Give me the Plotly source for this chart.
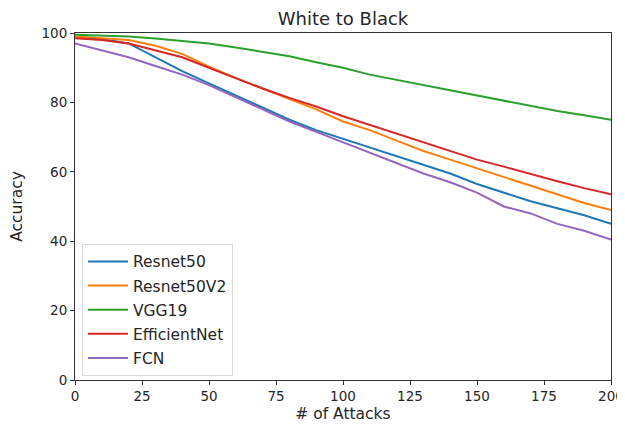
import plotly.graph_objects as go

attacks = list(range(0, 201, 10))
resnet50 = [99, 98.3, 97, 93, 89, 85.5, 82, 78.5, 75, 72, 69.5, 67, 64.5, 62, 59.5, 56.5, 54, 51.5, 49.5, 47.5, 45]
resnet50v2 = [99, 98.6, 98, 96.3, 94, 90.3, 87, 84, 81, 78, 74.5, 72, 69, 66, 63.5, 61, 58.5, 56, 53.5, 51, 49]
vgg19 = [99.5, 99.3, 99, 98.4, 97.8, 97, 95.8, 94.6, 93.3, 91.6, 90, 88, 86.5, 85, 83.5, 82, 80.5, 79, 77.5, 76.3, 75]
efficientnet = [98.5, 98, 97, 95, 93, 90, 87, 84, 81.3, 78.8, 76, 73.5, 71, 68.5, 66, 63.5, 61.5, 59.3, 57.3, 55.3, 53.5]
fcn = [97, 95, 93, 90.5, 88, 85, 81.5, 78, 74.5, 71.5, 68.5, 65.5, 62.5, 59.5, 57, 54, 50, 48, 45, 43, 40.5]

names = ["Resnet50", "Resnet50V2", "VGG19", "EfficientNet", "FCN"]
series = [resnet50, resnet50v2, vgg19, efficientnet, fcn]
colors = ["#1f77b4", "#ff7f0e", "#2ca02c", "#d62728", "#9467bd"]

fig = go.Figure()
for n, s, c in zip(names, series, colors):
    fig.add_trace(go.Scatter(x=attacks, y=s, mode="lines", name=n, legendgroup=n,
                             line=dict(color=c, width=2)))

fig.update_layout(
    width=625, height=423,
    margin=dict(l=67, r=22, t=25, b=51, autoexpand=False),
    plot_bgcolor="white", paper_bgcolor="white",
    font=dict(family="DejaVu Sans", size=13, color="#262626"),
    title=dict(text="White to Black", xref="paper", x=0.5, xanchor="center",
               yref="container", y=0.974, yanchor="middle", automargin=False,
               font=dict(size=18, family="DejaVu Sans", color="#262626")),
    showlegend=True,
    legend=dict(x=0.013, y=0.012, xanchor="left", yanchor="bottom",
                bgcolor="rgba(255,255,255,0.8)", bordercolor="#d9d9d9", borderwidth=1,
                font=dict(size=15.5, family="DejaVu Sans", color="#262626"),
                tracegroupgap=1, itemwidth=40),
)
fig.update_xaxes(range=[0, 200], tickvals=[0, 25, 50, 75, 100, 125, 150, 175, 200],
                 showgrid=False, zeroline=False, showline=True, mirror=True,
                 linecolor="#333333", linewidth=1, ticks="outside", ticklen=4,
                 tickcolor="#333333", automargin=False,
                 title=dict(text="# of Attacks", standoff=4, font=dict(size=15.5)),
                 tickfont=dict(size=13.5))
fig.update_yaxes(range=[0, 100], tickvals=[0, 20, 40, 60, 80, 100],
                 showgrid=False, zeroline=False, showline=True, mirror=True,
                 linecolor="#333333", linewidth=1, ticks="outside", ticklen=4,
                 tickcolor="#333333", automargin=False,
                 title=dict(text="Accuracy", standoff=15, font=dict(size=15.5)),
                 tickfont=dict(size=13.5))
fig.write_html("out.html")
